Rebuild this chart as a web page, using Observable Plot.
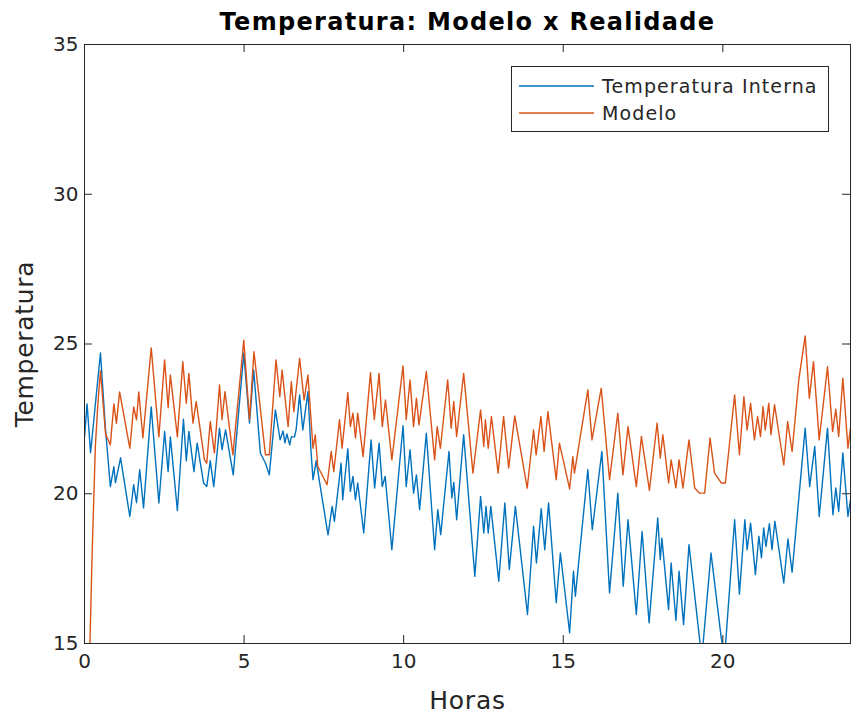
<!DOCTYPE html>
<html><head><meta charset="utf-8">
<script src="https://cdn.jsdelivr.net/npm/d3@7"></script>
<script src="https://cdn.jsdelivr.net/npm/@observablehq/plot@0.6"></script>
<style>
body{margin:0;background:#fff}
#wrap{position:relative;width:851px;height:715px;font-family:"DejaVu Sans",sans-serif}
#legend{position:absolute;left:511px;top:66px}
</style>
</head><body><div id="wrap"></div>
<script>
const title = "Temperatura: Modelo x Realidade";
const xLabel = "Horas";
const yLabel = "Temperatura";
const seriesNames = ["Temperatura Interna", "Modelo"];
const xTicks = [0, 5, 10, 15, 20];
const yTicks = [15, 20, 25, 30, 35];

const blueH = [0.00,0.08,0.19,0.50,0.66,0.81,0.92,0.97,1.13,1.42,
1.54,1.63,1.73,1.85,2.09,2.33,2.51,2.62,2.69,2.91,
3.10,3.19,3.27,3.43,3.53,3.73,3.83,3.94,4.05,4.23,
4.31,4.42,4.66,4.99,5.17,5.30,5.51,5.67,5.79,5.98,
6.13,6.22,6.28,6.34,6.43,6.48,6.58,6.63,6.74,6.84,
7.00,7.10,7.16,7.26,7.42,7.63,7.76,7.83,8.04,8.09,
8.25,8.33,8.41,8.49,8.56,8.75,8.98,9.09,9.23,9.33,
9.42,9.63,9.98,10.08,10.20,10.31,10.40,10.50,10.71,10.97,
11.07,11.16,11.42,11.51,11.57,11.66,11.88,12.23,12.41,12.51,
12.58,12.65,12.73,12.98,13.17,13.31,13.50,13.88,14.07,14.16,
14.31,14.42,14.54,14.78,14.91,15.20,15.32,15.38,15.77,15.91,
16.21,16.45,16.71,16.88,17.03,17.29,17.47,17.69,17.96,18.04,
18.09,18.30,18.38,18.53,18.63,18.77,18.94,19.34,19.63,19.95,
20.06,20.37,20.52,20.69,20.76,20.87,21.02,21.13,21.21,21.28,
21.35,21.46,21.54,21.63,21.91,22.04,22.17,22.58,22.72,22.88,
23.02,23.28,23.45,23.54,23.63,23.76,23.92,24.00];
const blueT = [21.9,23.0,21.37,24.7,22.13,20.24,20.9,20.37,21.2,19.24,
20.3,19.7,20.8,19.53,22.9,19.69,22.08,20.74,21.9,19.44,
22.49,21.1,22.08,20.74,21.69,20.36,20.24,21.1,20.24,22.19,
21.47,22.13,20.63,24.69,22.36,24.13,21.36,21.02,20.63,22.8,
21.8,22.1,21.7,22.0,21.63,21.9,21.9,22.13,23.3,22.13,
23.41,21.36,20.47,21.1,20.02,18.63,19.58,19.08,21.02,19.8,
21.5,20.08,20.58,19.8,20.36,18.69,21.8,20.19,21.69,20.24,
20.58,18.13,22.27,20.24,21.47,20.02,20.63,19.47,22.02,18.13,
19.47,18.63,21.41,19.86,20.38,19.13,21.97,17.24,19.91,18.69,
19.58,18.69,19.58,17.08,19.69,17.47,19.58,15.97,18.91,17.69,
19.5,18.13,19.69,16.36,18.02,15.36,17.41,16.58,20.8,18.8,
21.41,16.69,20.02,16.91,19.13,15.97,18.74,15.69,19.19,17.8,
18.52,16.13,17.69,15.77,17.41,15.63,18.3,14.5,18.02,15.19,
14.6,19.13,16.65,19.13,18.13,19.02,17.3,18.58,17.86,18.86,
18.24,19.0,18.13,19.08,17.02,18.49,17.38,22.19,20.24,21.58,
19.24,22.19,19.3,20.19,19.41,21.36,19.24,19.8];

const modelH = [0.00,0.17,0.24,0.34,0.42,0.50,0.66,0.81,0.92,1.00,
1.10,1.42,1.54,1.63,1.70,1.83,2.09,2.33,2.51,2.62,
2.69,2.91,3.08,3.19,3.27,3.40,3.50,3.76,3.83,3.94,
4.07,4.23,4.31,4.40,4.65,4.99,5.17,5.31,5.67,5.79,
6.00,6.12,6.19,6.38,6.48,6.56,6.74,6.88,7.00,7.16,
7.23,7.31,7.60,7.73,7.81,7.99,8.07,8.25,8.33,8.41,
8.49,8.56,8.73,8.96,9.08,9.23,9.33,9.43,9.63,9.98,
10.08,10.20,10.31,10.40,10.48,10.71,10.97,11.05,11.15,11.38,
11.49,11.57,11.66,11.88,12.17,12.41,12.51,12.56,12.65,12.75,
12.96,13.13,13.29,13.48,13.87,14.07,14.15,14.30,14.40,14.52,
14.78,14.88,15.20,15.30,15.35,15.77,15.90,16.19,16.45,16.71,
16.87,17.03,17.29,17.45,17.70,17.94,18.04,18.12,18.30,18.38,
18.53,18.63,18.75,18.94,19.12,19.27,19.43,19.60,19.74,19.95,
20.08,20.37,20.52,20.66,20.76,20.87,20.99,21.09,21.18,21.26,
21.33,21.44,21.51,21.62,21.91,22.03,22.17,22.38,22.58,22.71,
22.84,23.02,23.28,23.44,23.54,23.63,23.76,23.92,24.00];
const modelT = [12.0,15.0,18.02,21.58,23.02,24.1,22.0,21.63,23.0,22.35,
23.4,21.52,22.9,22.47,23.4,21.87,24.87,21.9,24.47,22.87,
23.97,21.9,24.41,23.02,24.02,22.36,23.08,21.13,21.02,22.41,
21.36,23.63,22.47,23.41,21.3,25.13,22.47,24.74,21.3,21.3,
24.47,23.24,24.13,22.24,23.74,22.74,24.52,23.13,23.97,21.52,
21.97,20.91,20.3,21.41,20.74,22.47,21.52,23.38,22.24,22.69,
21.86,22.69,21.24,24.04,22.47,24.02,22.24,23.13,21.13,24.27,
22.47,23.8,22.24,23.19,22.3,24.08,21.13,22.24,21.52,23.8,
22.19,23.08,21.91,24.02,20.69,22.8,21.58,22.47,21.52,22.58,
20.69,22.58,20.86,22.6,20.19,22.13,21.3,22.58,21.41,22.74,
20.47,21.69,20.16,21.24,20.69,23.47,21.8,23.52,20.47,22.69,
20.63,22.24,20.24,21.91,20.11,22.36,21.19,21.97,20.36,21.13,
20.2,21.13,20.19,21.8,20.19,20.02,20.02,21.86,20.69,20.36,
20.36,23.3,21.3,23.24,22.13,23.02,21.8,22.58,21.91,22.91,
22.13,23.02,21.97,22.97,20.96,22.41,21.41,23.8,25.27,23.19,
24.41,21.8,24.24,22.08,22.82,21.91,23.86,21.52,22.2];

const colors = ["#0072BD", "#D95319"];
const ink = "#262626";

const blueRows = blueH.map((h, i) => ({h, t: blueT[i]}));
const modelRows = modelH.map((h, i) => ({h, t: modelT[i]}));

const W = 851, H = 715, mT = 44, mR = 1, mB = 72, mL = 84;
const innerW = W - mL - mR, innerH = H - mT - mB, tk = 8;

const chart = Plot.plot({
  width: W, height: H,
  marginTop: mT, marginRight: mR, marginBottom: mB, marginLeft: mL,
  x: {domain: [0, 24]},
  y: {domain: [15, 35]},
  style: {fontFamily: "DejaVu Sans, sans-serif", fontSize: "20px", color: ink, background: "#fff"},
  marks: [
    Plot.line(blueRows, {x: "h", y: "t", stroke: colors[0], strokeWidth: 1.4, clip: true}),
    Plot.line(modelRows, {x: "h", y: "t", stroke: colors[1], strokeWidth: 1.4, clip: true}),
    Plot.frame({stroke: ink, strokeWidth: 1}),
    Plot.ruleX(xTicks, {stroke: ink, insetTop: innerH - tk}),
    Plot.ruleX(xTicks, {stroke: ink, insetBottom: innerH - tk}),
    Plot.ruleY(yTicks, {stroke: ink, insetRight: innerW - tk}),
    Plot.ruleY(yTicks, {stroke: ink, insetLeft: innerW - tk}),
    Plot.axisX({ticks: xTicks, tickSize: 0, tickPadding: 10, label: null, fontSize: 20, fill: ink}),
    Plot.axisY({ticks: yTicks, tickSize: 0, tickPadding: 6, label: null, fontSize: 20, fill: ink}),
    Plot.text([xLabel], {frameAnchor: "bottom", dy: 57, lineAnchor: "middle", fontSize: 25, fill: ink, style: "letter-spacing:0.8px"}),
    Plot.text([yLabel], {frameAnchor: "left", dx: -60, rotate: -90, textAnchor: "middle", lineAnchor: "middle", fontSize: 25, fill: ink}),
    Plot.text([title], {frameAnchor: "top", dy: -22, lineAnchor: "middle", fontSize: 24, fontWeight: "bold", fill: "#000"})
  ]
});

const wrap = document.getElementById("wrap");
wrap.appendChild(chart);
// slight letter spacing like the reference rendering
chart.querySelectorAll("text").forEach(t => {
  const s = t.textContent;
  if (s === title) t.setAttribute("letter-spacing", "1.3");
  if (s === yLabel) t.setAttribute("letter-spacing", "0.7");
  if (s === xLabel) t.setAttribute("letter-spacing", "0.8");
});

// legend
const ns = "http://www.w3.org/2000/svg";
const leg = document.createElementNS(ns, "svg");
leg.setAttribute("id", "legend");
leg.setAttribute("width", 318);
leg.setAttribute("height", 66);
const rect = document.createElementNS(ns, "rect");
rect.setAttribute("x", 0.5); rect.setAttribute("y", 0.5);
rect.setAttribute("width", 317); rect.setAttribute("height", 65);
rect.setAttribute("fill", "#fff"); rect.setAttribute("stroke", ink);
leg.appendChild(rect);
seriesNames.forEach((name, i) => {
  const y = 20 + i * 27;
  const ln = document.createElementNS(ns, "line");
  ln.setAttribute("x1", 8); ln.setAttribute("x2", 83);
  ln.setAttribute("y1", y); ln.setAttribute("y2", y);
  ln.setAttribute("stroke", colors[i]); ln.setAttribute("stroke-width", 1.4);
  leg.appendChild(ln);
  const tx = document.createElementNS(ns, "text");
  tx.setAttribute("x", 91); tx.setAttribute("y", y);
  tx.setAttribute("dominant-baseline", "central");
  tx.setAttribute("font-family", "DejaVu Sans, sans-serif");
  tx.setAttribute("font-size", 19);
  tx.setAttribute("letter-spacing", "1.1");
  tx.setAttribute("fill", ink);
  tx.textContent = name;
  leg.appendChild(tx);
});
wrap.appendChild(leg);
</script>
</body></html>
